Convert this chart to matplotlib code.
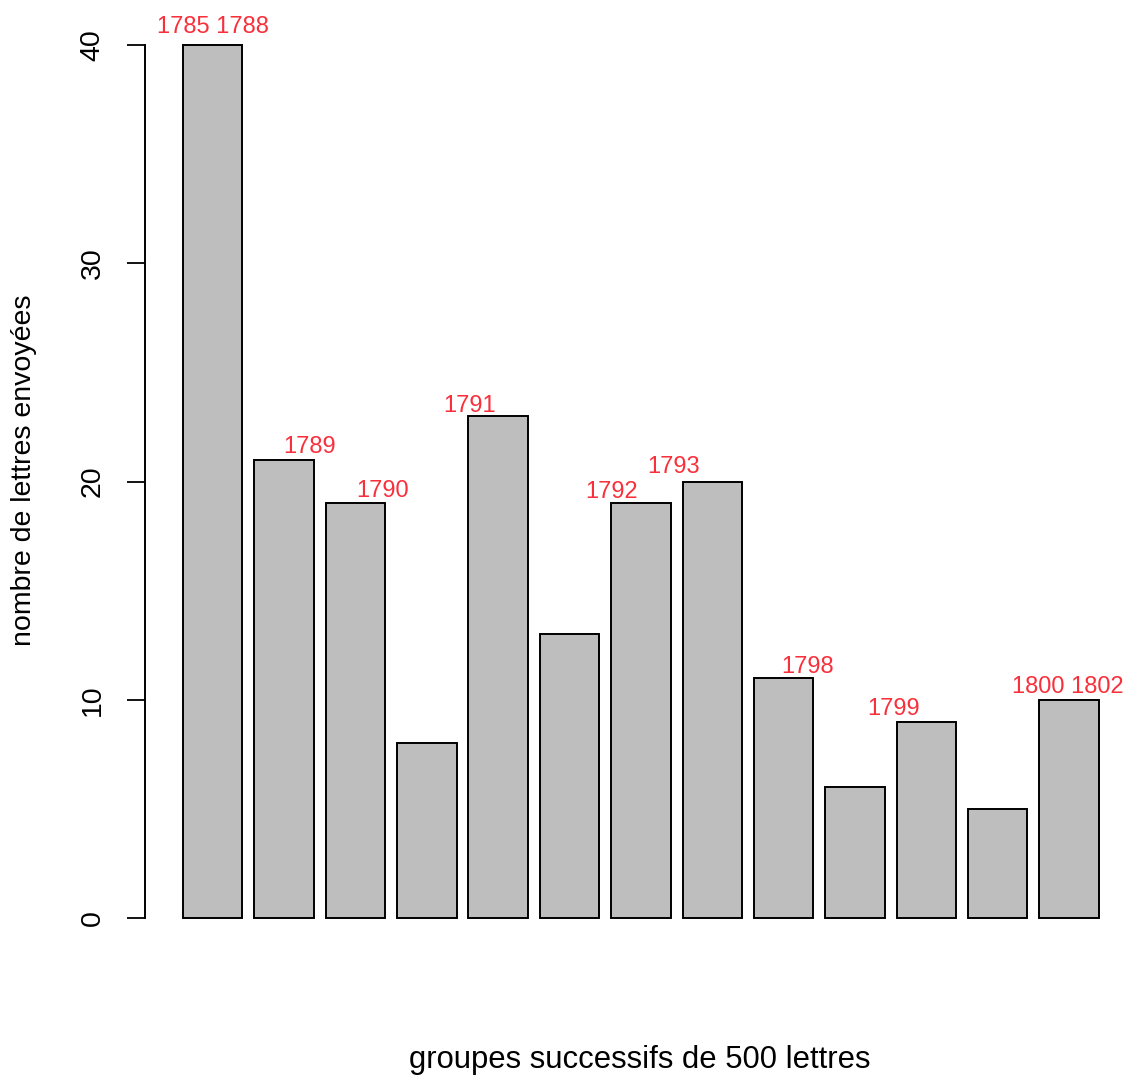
import matplotlib.pyplot as plt
import numpy as np

plt.rcParams['font.family'] = ['Liberation Sans', 'DejaVu Sans']

# lettres envoyees par groupe de 500 lettres
counts = [40, 21, 19, 8, 23, 13, 19, 20, 11, 6, 9, 5, 10]
# annotations des annees (position x en unites du barplot, y = ligne de base)
year_labels = ['1785 1788', '1789', '1790', '1791', '1792', '1793', '1798', '1799', '1800 1802']
year_x = [0.70, 2.33, 3.56, 5.02, 7.41, 8.45, 10.71, 12.15, 15.08]
year_y = [40.55, 21.29, 19.30, 23.20, 19.23, 20.40, 11.21, 9.30, 10.30]
yticks = [0, 10, 20, 30, 40]

W, H = 1129, 1075
fig = plt.figure(figsize=(W / 100, H / 100), dpi=100)
ax = fig.add_axes([145 / W, (H - 952.9) / H, 980 / W, (952.9 - 10.1) / H])

# positions facon barplot de R : largeur 1, espace 0.2
pos = 0.7 + 1.2 * np.arange(len(counts))
ax.bar(pos, counts, width=1.0, color='#bebebe', edgecolor='black', linewidth=1.4)

for lab, x, y in zip(year_labels, year_x, year_y):
    ax.text(x, y, lab, color='#f8303c', fontsize=17, ha='center', va='baseline')

ax.set_xlim(-0.439, 16.04)
ax.set_ylim(-1.6, 41.6)
for s in ['top', 'right', 'bottom']:
    ax.spines[s].set_visible(False)
ax.spines['left'].set_bounds(0, 40)
ax.spines['left'].set_linewidth(1.4)
ax.set_xticks([])
ax.set_yticks(yticks)
ax.set_yticklabels([str(t) for t in yticks], rotation=90, va='center', fontsize=20.5)
ax.tick_params(axis='y', length=13, width=1.3, pad=15.5)

fig.text(24 / W, (H - 470) / H, 'nombre de lettres envoyées', rotation=90,
         ha='center', va='center', fontsize=20.5)
fig.text(640 / W, (H - 1068) / H, 'groupes successifs de 500 lettres',
         ha='center', va='baseline', fontsize=22.3)

fig.savefig('out.png', dpi=100)
